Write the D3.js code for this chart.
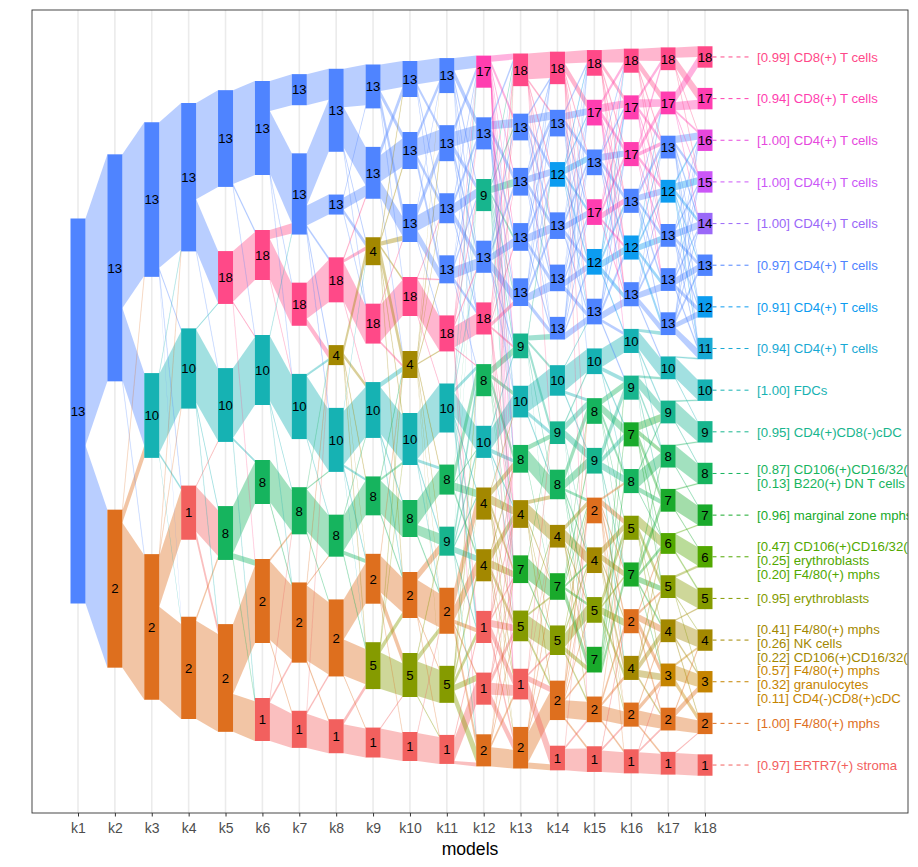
<!DOCTYPE html>
<html>
<head>
<meta charset="utf-8">
<script src="https://cdn.jsdelivr.net/npm/d3@7"></script>
<style>
  body { margin: 0; background: #fff; }
  text { font-family: "Liberation Sans", Arial, sans-serif; }
</style>
</head>
<body>
<div id="chart"></div>
<script>

// -----------------------------------------------------------------------------
// Data
// -----------------------------------------------------------------------------

var models = ["k1","k2","k3","k4","k5","k6","k7","k8","k9","k10",
              "k11","k12","k13","k14","k15","k16","k17","k18"];

// cluster labels per model, top to bottom
var clusterLabels = [
  [13],
  [13, 2],
  [13, 10, 2],
  [13, 10, 1, 2],
  [13, 18, 10, 8, 2],
  [13, 18, 10, 8, 2, 1],
  [13, 13, 18, 10, 8, 2, 1],
  [13, 13, 18, 4, 10, 8, 2, 1],
  [13, 13, 4, 18, 10, 8, 2, 5, 1],
  [13, 13, 13, 18, 4, 10, 8, 2, 5, 1],
  [13, 13, 13, 13, 18, 10, 8, 9, 2, 5, 1],
  [17, 13, 9, 13, 18, 8, 10, 4, 4, 1, 1, 2],
  [18, 13, 13, 13, 13, 9, 10, 8, 4, 7, 5, 1, 2],
  [18, 13, 12, 13, 13, 13, 10, 9, 8, 4, 7, 5, 2, 1],
  [18, 17, 13, 17, 12, 13, 10, 8, 9, 2, 4, 5, 7, 2, 1],
  [18, 17, 17, 13, 12, 13, 10, 9, 7, 8, 5, 7, 2, 4, 2, 1],
  [18, 17, 13, 12, 13, 13, 13, 10, 9, 8, 7, 6, 5, 4, 3, 2, 1],
  [18, 17, 16, 15, 14, 13, 12, 11, 10, 9, 8, 7, 6, 5, 4, 3, 2, 1]
];

// cluster sizes (cells), same order as clusterLabels
var clusterSizes = [
  [385],
  [227, 158],
  [155, 85, 146],
  [148, 80, 54, 102],
  [97, 53, 74, 54, 108],
  [94, 50, 70, 44, 84, 43],
  [31, 81, 43, 65, 47, 80, 37],
  [83, 20, 45, 20, 64, 42, 77, 34],
  [44, 52, 28, 40, 56, 39, 50, 47, 30],
  [36, 37, 38, 39, 27, 52, 37, 46, 44, 29],
  [35, 36, 30, 28, 36, 49, 30, 29, 46, 37, 29],
  [32, 32, 32, 32, 32, 32, 32, 32, 32, 32, 32, 32],
  [33, 27, 28, 28, 28, 25, 32, 28, 28, 28, 31, 31, 42],
  [33, 27, 25, 27, 27, 23, 31, 23, 30, 23, 27, 30, 40, 25],
  [26, 26, 26, 26, 26, 26, 26, 26, 26, 26, 26, 26, 26, 26, 26],
  [24, 24, 24, 24, 24, 24, 24, 24, 24, 24, 24, 24, 24, 24, 24, 24],
  [23, 23, 23, 23, 23, 23, 23, 23, 23, 23, 23, 21, 23, 23, 23, 23, 23],
  [21, 21, 21, 21, 21, 21, 21, 21, 21, 21, 21, 21, 21, 21, 21, 21, 21, 21]
];

// cells moving between neighbouring models: [from cluster, to cluster, cells]
var flows = [
  [[0,0,227],[0,1,158]],
  [[0,0,153],[0,1,72],[0,2,1],[1,0,1],[1,1,12],[1,2,145]],
  [[0,0,146],[0,1,3],[0,2,2],[0,3,4],[1,0,1],[1,1,79],[1,2,2],[1,3,3],
   [2,0,1],[2,1,1],[2,2,50],[2,3,92]],
  [[0,0,96],[0,1,51],[0,2,1],[1,1,1],[1,2,72],[1,3,4],[1,4,2],[2,2,1],
   [2,3,45],[2,4,8],[3,3,4],[3,4,98]],
  [[0,0,94],[0,1,2],[0,2,1],[1,1,48],[1,2,1],[1,4,1],[2,2,69],[2,3,2],
   [2,5,2],[3,3,43],[3,4,5],[3,5,1],[4,4,70],[4,5,38]],
  [[0,0,30],[0,1,62],[0,2,1],[0,3,1],[1,1,9],[1,2,40],[1,3,1],[2,1,1],
   [2,3,63],[2,4,3],[2,5,1],[3,4,42],[3,5,2],[4,4,2],[4,5,76],[4,6,3],
   [5,4,1],[5,5,3],[5,6,34]],
  [[0,0,31],[1,0,52],[1,1,20],[1,2,2],[1,3,5],[1,4,2],[2,2,36],[2,3,7],
   [3,3,2],[3,4,62],[3,5,1],[4,3,1],[4,4,1],[4,5,42],[4,6,3],[5,3,2],
   [5,5,1],[5,6,74],[5,7,2],[6,3,1],[6,6,2],[6,7,33]],
  [[0,0,38],[0,1,40],[0,2,3],[0,3,1],[1,0,3],[1,1,12],[1,2,4],[1,3,1],
   [2,1,2],[2,2,3],[2,3,38],[2,4,1],[3,2,8],[3,4,4],[3,5,2],[3,6,3],
   [3,7,2],[4,2,3],[4,4,52],[4,5,2],[4,6,2],[4,7,3],[5,4,1],[5,5,35],
   [5,6,4],[5,7,2],[6,6,40],[6,7,36],[6,8,1],[7,7,5],[7,8,29]],
  [[0,0,26],[0,1,6],[0,2,10],[0,3,1],[1,0,8],[1,1,26],[1,2,16],[1,4,1],
   [2,0,2],[2,1,2],[2,2,4],[2,3,2],[2,4,12],[2,5,2],[2,7,2],[3,2,1],
   [3,3,36],[3,4,2],[4,4,5],[4,5,46],[4,6,2],[4,7,2],[5,4,2],[5,5,2],
   [5,6,33],[5,7,2],[6,4,2],[6,7,36],[6,8,10],[6,9,1],[7,4,2],[7,5,1],
   [7,7,6],[7,8,32],[8,8,1],[8,9,28]],
  [[0,0,22],[0,1,4],[0,2,4],[0,3,4],[1,0,6],[1,1,18],[1,2,5],[1,3,8],
   [2,0,3],[2,1,8],[2,2,15],[2,3,10],[2,4,1],[3,2,1],[3,3,1],[3,4,35],
   [3,5,1],[4,0,3],[4,1,2],[4,2,3],[4,3,3],[4,4,1],[4,6,2],[4,7,4],
   [4,8,3],[4,9,3],[5,5,45],[5,6,3],[5,7,2],[5,8,1],[6,6,25],[6,7,10],
   [6,8,2],[7,7,8],[7,8,36],[7,9,1],[7,10,1],[8,7,2],[8,8,6],[8,9,33],
   [8,10,1],[9,8,1],[9,10,27]],
  [[0,0,12],[0,1,8],[0,2,5],[0,3,5],[0,4,3],[0,6,1],
   [1,0,6],[1,1,14],[1,2,6],[1,3,6],[1,4,2],
   [2,0,4],[2,1,5],[2,2,10],[2,3,7],[2,4,2],
   [3,0,3],[3,1,4],[3,2,4],[3,3,11],[3,4,4],[3,5,1],
   [4,0,6],[4,1,1],[4,2,2],[4,3,2],[4,4,21],[4,5,1],[4,9,2],[4,11,1],
   [5,0,1],[5,2,3],[5,3,1],[5,5,4],[5,6,24],[5,7,2],[5,8,2],[5,9,12],
   [6,2,3],[6,5,14],[6,6,1],[6,7,8],[6,8,4],
   [7,2,3],[7,5,10],[7,6,5],[7,7,2],[7,8,6],[7,9,2],[7,11,1],
   [8,7,18],[8,8,14],[8,9,4],[8,10,2],[8,11,8],
   [9,5,2],[9,6,2],[9,7,3],[9,8,6],[9,9,6],[9,10,6],[9,11,12],
   [10,9,4],[10,10,22],[10,11,3]],
  [[0,0,6],[0,1,5],[0,2,4],[0,3,4],[0,4,4],[0,5,2],[0,7,2],[0,8,1],[0,9,2],[0,10,1],[0,11,1],
   [1,0,4],[1,1,8],[1,2,6],[1,3,5],[1,4,5],[1,5,2],[1,6,1],[1,7,1],
   [2,0,4],[2,1,3],[2,2,7],[2,3,3],[2,4,1],[2,5,5],[2,6,3],[2,7,4],[2,9,2],
   [3,0,3],[3,1,5],[3,2,5],[3,3,7],[3,4,9],[3,5,2],[3,6,1],
   [4,0,10],[4,1,4],[4,2,3],[4,3,3],[4,4,4],[4,5,2],[4,8,2],[4,9,2],[4,11,2],
   [5,0,3],[5,5,7],[5,6,4],[5,7,8],[5,8,3],[5,9,4],[5,10,3],
   [6,5,3],[6,6,20],[6,7,4],[6,8,2],[6,9,3],
   [7,6,1],[7,7,7],[7,8,9],[7,9,6],[7,10,4],[7,11,2],[7,12,3],
   [8,7,2],[8,8,9],[8,9,8],[8,10,6],[8,11,3],[8,12,4],
   [9,0,2],[9,7,2],[9,8,2],[9,9,3],[9,10,7],[9,11,10],[9,12,6],
   [10,8,2],[10,9,2],[10,10,6],[10,11,12],[10,12,10],
   [11,8,3],[11,9,2],[11,10,4],[11,11,4],[11,12,19]],
  [[0,0,26],[0,1,2],[0,2,2],[0,3,1],[0,4,1],[0,7,1],
   [1,0,2],[1,1,8],[1,2,5],[1,3,5],[1,4,4],[1,5,3],
   [2,0,2],[2,1,6],[2,2,7],[2,3,5],[2,4,4],[2,5,4],
   [3,0,1],[3,1,5],[3,2,5],[3,3,8],[3,4,5],[3,5,4],
   [4,0,1],[4,1,5],[4,2,4],[4,3,5],[4,4,8],[4,5,5],
   [5,2,2],[5,5,5],[5,6,3],[5,7,8],[5,8,4],[5,10,3],
   [6,6,26],[6,7,4],[6,8,2],
   [7,7,5],[7,8,20],[7,10,3],
   [8,8,4],[8,9,16],[8,10,3],[8,11,3],[8,12,2],
   [9,7,3],[9,10,22],[9,11,3],
   [10,9,3],[10,10,2],[10,11,22],[10,12,4],
   [11,7,2],[11,9,3],[11,11,2],[11,12,6],[11,13,18],
   [12,9,2],[12,10,2],[12,11,2],[12,12,30],[12,13,6]],
  [[0,0,12],[0,1,9],[0,2,2],[0,3,4],[0,4,2],[0,5,2],[0,9,1],[0,13,1],
   [1,0,3],[1,1,7],[1,2,5],[1,3,4],[1,4,4],[1,5,3],[1,6,1],
   [2,0,2],[2,1,3],[2,2,7],[2,3,4],[2,4,5],[2,5,4],
   [3,0,3],[3,1,3],[3,2,5],[3,3,7],[3,4,5],[3,5,4],
   [4,0,3],[4,1,3],[4,2,5],[4,3,4],[4,4,7],[4,5,5],
   [5,0,2],[5,1,2],[5,2,4],[5,3,4],[5,4,4],[5,5,7],
   [6,5,1],[6,6,25],[6,7,3],[6,8,2],
   [7,6,2],[7,7,7],[7,8,8],[7,10,3],[7,12,3],
   [8,7,10],[8,8,9],[8,9,3],[8,10,2],[8,11,2],[8,12,4],
   [9,9,5],[9,10,12],[9,11,3],[9,12,2],[9,13,1],
   [10,7,4],[10,8,5],[10,9,3],[10,10,2],[10,11,3],[10,12,10],
   [11,9,4],[11,10,4],[11,11,14],[11,12,5],[11,13,3],
   [12,7,2],[12,9,9],[12,10,4],[12,11,3],[12,12,2],[12,13,18],[12,14,2],
   [13,9,1],[13,13,2],[13,14,22]],
  [[0,0,12],[0,1,5],[0,2,4],[0,3,2],[0,4,1],[0,5,1],
   [1,0,4],[1,1,8],[1,2,5],[1,3,3],[1,4,2],[1,5,2],[1,6,1],
   [2,0,1],[2,1,3],[2,2,7],[2,3,5],[2,4,5],[2,5,4],
   [3,0,3],[3,1,5],[3,2,5],[3,3,6],[3,4,3],[3,5,3],
   [4,0,1],[4,1,2],[4,2,3],[4,3,5],[4,4,7],[4,5,5],[4,6,2],
   [5,1,2],[5,2,2],[5,3,4],[5,4,5],[5,5,7],[5,6,3],[5,7,2],
   [6,6,18],[6,7,4],[6,8,2],[6,9,1],
   [7,7,6],[7,8,8],[7,9,5],[7,10,3],[7,11,3],
   [8,7,9],[8,8,5],[8,9,7],[8,11,2],[8,13,2],
   [9,9,2],[9,10,6],[9,11,3],[9,12,6],[9,13,4],[9,14,3],[9,15,1],
   [10,10,7],[10,11,6],[10,12,3],[10,13,6],[10,14,3],
   [11,10,8],[11,11,2],[11,12,7],[11,13,5],[11,14,3],
   [12,7,2],[12,8,6],[12,9,8],[12,10,1],[12,11,8],
   [13,10,1],[13,12,5],[13,13,3],[13,14,14],[13,15,2],
   [14,12,2],[14,14,2],[14,15,21]],
  [[0,0,12],[0,1,8],[0,2,2],[0,3,1],[0,4,1],
   [1,0,4],[1,1,8],[1,2,4],[1,3,3],[1,4,3],[1,5,2],
   [2,0,4],[2,1,6],[2,2,4],[2,3,4],[2,4,3],[2,5,3],
   [3,1,1],[3,2,5],[3,3,6],[3,4,4],[3,5,4],[3,6,4],
   [4,1,1],[4,2,4],[4,3,4],[4,4,6],[4,5,4],[4,6,5],
   [5,2,3],[5,3,3],[5,4,4],[5,5,6],[5,6,6],[5,7,2],
   [6,6,3],[6,7,18],[6,8,3],[6,9,1],
   [7,7,2],[7,8,11],[7,9,4],[7,10,4],[7,12,3],
   [8,8,8],[8,9,5],[8,10,7],[8,11,2],[8,12,2],
   [9,8,2],[9,9,16],[9,10,5],[9,11,1],
   [10,11,12],[10,12,7],[10,13,3],[10,14,2],
   [11,9,2],[11,10,8],[11,11,4],[11,12,6],[11,13,3],[11,14,1],
   [12,11,2],[12,12,3],[12,13,7],[12,14,7],[12,15,5],
   [13,11,2],[13,12,5],[13,13,7],[13,14,7],[13,15,3],
   [14,13,3],[14,14,5],[14,15,14],[14,16,2],
   [15,14,1],[15,15,2],[15,16,21]],
  [[0,0,10],[0,1,10],[0,2,1],[0,3,1],
   [1,0,10],[1,1,8],[1,2,2],[1,3,1],[1,4,1],
   [2,2,7],[2,3,4],[2,4,4],[2,5,3],[2,6,2],[2,7,2],
   [3,2,3],[3,3,7],[3,4,4],[3,5,3],[3,6,3],[3,7,2],
   [4,2,3],[4,3,3],[4,4,7],[4,5,4],[4,6,3],[4,7,2],
   [5,2,3],[5,3,3],[5,4,3],[5,5,7],[5,6,4],[5,7,2],
   [6,2,2],[6,3,2],[6,4,2],[6,5,4],[6,6,5],[6,7,7],
   [7,7,1],[7,8,20],[7,9,1],
   [8,8,1],[8,9,20],[8,10,1],
   [9,9,1],[9,10,20],[9,11,1],
   [10,10,1],[10,11,20],[10,12,1],
   [11,11,1],[11,12,18],[11,13,2],
   [12,12,2],[12,13,18],[12,14,1],[12,15,1],
   [13,13,1],[13,14,17],[13,15,2],[13,16,2],
   [14,14,2],[14,15,14],[14,16,6],
   [15,14,2],[15,15,6],[15,16,14],
   [16,16,1],[16,17,21]]
];

// annotations of the k18 clusters (as far as the panel shows them)
var clusterNames = [
  ["[0.99] CD8(+) T cells"],
  ["[0.94] CD8(+) T cells"],
  ["[1.00] CD4(+) T cells"],
  ["[1.00] CD4(+) T cells"],
  ["[1.00] CD4(+) T cells"],
  ["[0.97] CD4(+) T cells"],
  ["[0.91] CD4(+) T cells"],
  ["[0.94] CD4(+) T cells"],
  ["[1.00] FDCs"],
  ["[0.95] CD4(+)CD8(-)cDC"],
  ["[0.87] CD106(+)CD16/32(", "[0.13] B220(+) DN T cells"],
  ["[0.96] marginal zone mphs"],
  ["[0.47] CD106(+)CD16/32(", "[0.25] erythroblasts", "[0.20] F4/80(+) mphs"],
  ["[0.95] erythroblasts"],
  ["[0.41] F4/80(+) mphs", "[0.26] NK cells", "[0.22] CD106(+)CD16/32("],
  ["[0.57] F4/80(+) mphs", "[0.32] granulocytes", "[0.11] CD4(-)CD8(+)cDC"],
  ["[1.00] F4/80(+) mphs"],
  ["[0.97] ERTR7(+) stroma"]
];

// -----------------------------------------------------------------------------
// D3 Configurations
// -----------------------------------------------------------------------------

var width = 918, height = 867;
var panel = {left: 32, right: 908, top: 10, bottom: 813};
var nodeWidth = 15;
var columnHeight = 385, yMid = 411;
var labelSize = 13.2;

var palette = ["#F2605E","#DE6F1E","#C58400","#A38800","#859B00","#52A800",
               "#19AA2B","#16B45E","#17B58E","#16B2B3","#18A9D4","#0C9CF0",
               "#4F84FF","#9A68F8","#CB56F7","#E647DD","#FF3EB0","#FF4988"];
function color(label) { return palette[label - 1]; }

var xScale = d3.scalePoint()
    .domain(models)
    .range([78, 705]);

var svg = d3.select("#chart").append("svg")
    .attr("width", width)
    .attr("height", height);

svg.append("defs").append("clipPath")
    .attr("id", "panel-clip")
  .append("rect")
    .attr("x", panel.left)
    .attr("y", panel.top)
    .attr("width", panel.right - panel.left)
    .attr("height", panel.bottom - panel.top);

var plot = svg.append("g").attr("clip-path", "url(#panel-clip)");

// vertical grid lines
plot.selectAll(".grid")
    .data(models)
  .enter().append("line")
    .attr("x1", function(d) { return xScale(d); })
    .attr("x2", function(d) { return xScale(d); })
    .attr("y1", panel.top)
    .attr("y2", panel.bottom)
    .attr("stroke", "#EBEBEB")
    .attr("stroke-width", 1.6);

// -----------------------------------------------------------------------------
// Node layout
// -----------------------------------------------------------------------------

var columns = clusterSizes.map(function(sizes, c) {
  var n = sizes.length;
  var gap = columnHeight / (n + 1);
  var span = columnHeight + gap * (n - 1);
  var yScale = d3.scaleLinear()
      .domain([0, d3.sum(sizes)])
      .range([0, columnHeight]);
  var y = yMid - span / 2;
  return sizes.map(function(s, i) {
    var node = {col: c, index: i, label: clusterLabels[c][i], size: s,
                y0: y, y1: y + yScale(s)};
    y = node.y1 + gap;
    return node;
  });
});

// -----------------------------------------------------------------------------
// Flow layout
// -----------------------------------------------------------------------------

var links = [];
flows.forEach(function(list, t) {
  var src = columns[t], tgt = columns[t + 1];
  var items = list.map(function(f) {
    return {t: t, s: f[0], k: f[1], value: f[2]};
  });
  src.forEach(function(node, i) {
    var out = items.filter(function(d) { return d.s === i; })
        .sort(function(a, b) { return a.k - b.k; });
    var sc = d3.scaleLinear()
        .domain([0, d3.sum(out, function(d) { return d.value; })])
        .range([node.y0, node.y1]);
    var acc = 0;
    out.forEach(function(d) {
      d.sy0 = sc(acc); acc += d.value; d.sy1 = sc(acc);
    });
  });
  tgt.forEach(function(node, i) {
    var inc = items.filter(function(d) { return d.k === i; })
        .sort(function(a, b) { return a.s - b.s; });
    var sc = d3.scaleLinear()
        .domain([0, d3.sum(inc, function(d) { return d.value; })])
        .range([node.y0, node.y1]);
    var acc = 0;
    inc.forEach(function(d) {
      d.ty0 = sc(acc); acc += d.value; d.ty1 = sc(acc);
    });
  });
  items.forEach(function(d) {
    d.x0 = xScale(models[t]) + nodeWidth / 2;
    d.x1 = xScale(models[t + 1]) - nodeWidth / 2;
    d.label = src[d.s].label;
    links.push(d);
  });
});

links.sort(function(a, b) { return b.value - a.value; });

plot.selectAll(".flow")
    .data(links)
  .enter().append("path")
    .attr("class", "flow")
    .attr("d", function(d) {
      var p = d3.path();
      p.moveTo(d.x0, d.sy0);
      p.lineTo(d.x1, d.ty0);
      p.lineTo(d.x1, d.ty1);
      p.lineTo(d.x0, d.sy1);
      p.closePath();
      return p.toString();
    })
    .attr("fill", function(d) { return color(d.label); })
    .attr("fill-opacity", 0.4)
    .attr("stroke", function(d) { return color(d.label); })
    .attr("stroke-opacity", function(d) { return d.value < 3 ? 0.3 : 0; })
    .attr("stroke-width", 0.4);

// -----------------------------------------------------------------------------
// Nodes
// -----------------------------------------------------------------------------

var allNodes = [].concat.apply([], columns);

var node = plot.selectAll(".node")
    .data(allNodes)
  .enter().append("g")
    .attr("class", "node");

node.append("rect")
    .attr("x", function(d) { return xScale(models[d.col]) - nodeWidth / 2; })
    .attr("y", function(d) { return d.y0; })
    .attr("width", nodeWidth)
    .attr("height", function(d) { return d.y1 - d.y0; })
    .attr("fill", function(d) { return color(d.label); });

node.append("text")
    .attr("x", function(d) { return xScale(models[d.col]); })
    .attr("y", function(d) { return (d.y0 + d.y1) / 2; })
    .attr("dy", "0.36em")
    .attr("text-anchor", "middle")
    .attr("font-size", labelSize)
    .attr("fill", "#000")
    .text(function(d) { return d.label; });

// -----------------------------------------------------------------------------
// Annotations for the last model
// -----------------------------------------------------------------------------

var last = columns[columns.length - 1];
var xLast = xScale(models[models.length - 1]);

var note = plot.selectAll(".note")
    .data(last)
  .enter().append("g")
    .attr("class", "note");

note.append("line")
    .attr("x1", xLast + nodeWidth / 2)
    .attr("x2", 749)
    .attr("y1", function(d) { return (d.y0 + d.y1) / 2; })
    .attr("y2", function(d) { return (d.y0 + d.y1) / 2; })
    .attr("stroke", function(d) { return color(d.label); })
    .attr("stroke-width", 1)
    .attr("stroke-dasharray", "4,4");

note.each(function(d, i) {
  var lines = clusterNames[i];
  var cy = (d.y0 + d.y1) / 2 + (lines.length > 1 ? 3 : 0);
  d3.select(this).selectAll("text")
      .data(lines)
    .enter().append("text")
      .attr("x", 757)
      .attr("y", function(t, j) { return cy + (j - (lines.length - 1) / 2) * 14; })
      .attr("dy", "0.36em")
      .attr("font-size", labelSize)
      .attr("fill", color(d.label))
      .text(function(t) { return t; });
});

// -----------------------------------------------------------------------------
// Frame and axis
// -----------------------------------------------------------------------------

svg.append("rect")
    .attr("x", panel.left)
    .attr("y", panel.top)
    .attr("width", panel.right - panel.left)
    .attr("height", panel.bottom - panel.top)
    .attr("fill", "none")
    .attr("stroke", "#333333")
    .attr("stroke-width", 0.9);

var axis = svg.append("g")
    .attr("transform", "translate(0," + panel.bottom + ")")
    .call(d3.axisBottom(xScale).tickSize(3.5).tickPadding(6.5));

axis.select(".domain").remove();
axis.selectAll(".tick line").attr("stroke", "#333333");
axis.selectAll(".tick text")
    .attr("fill", "#4D4D4D")
    .attr("font-size", 14)
    .attr("font-family", "Liberation Sans, Arial, sans-serif");

svg.append("text")
    .attr("x", (panel.left + panel.right) / 2)
    .attr("y", 855)
    .attr("text-anchor", "middle")
    .attr("font-size", 17.6)
    .attr("fill", "#000")
    .text("models");

</script>
</body>
</html>
